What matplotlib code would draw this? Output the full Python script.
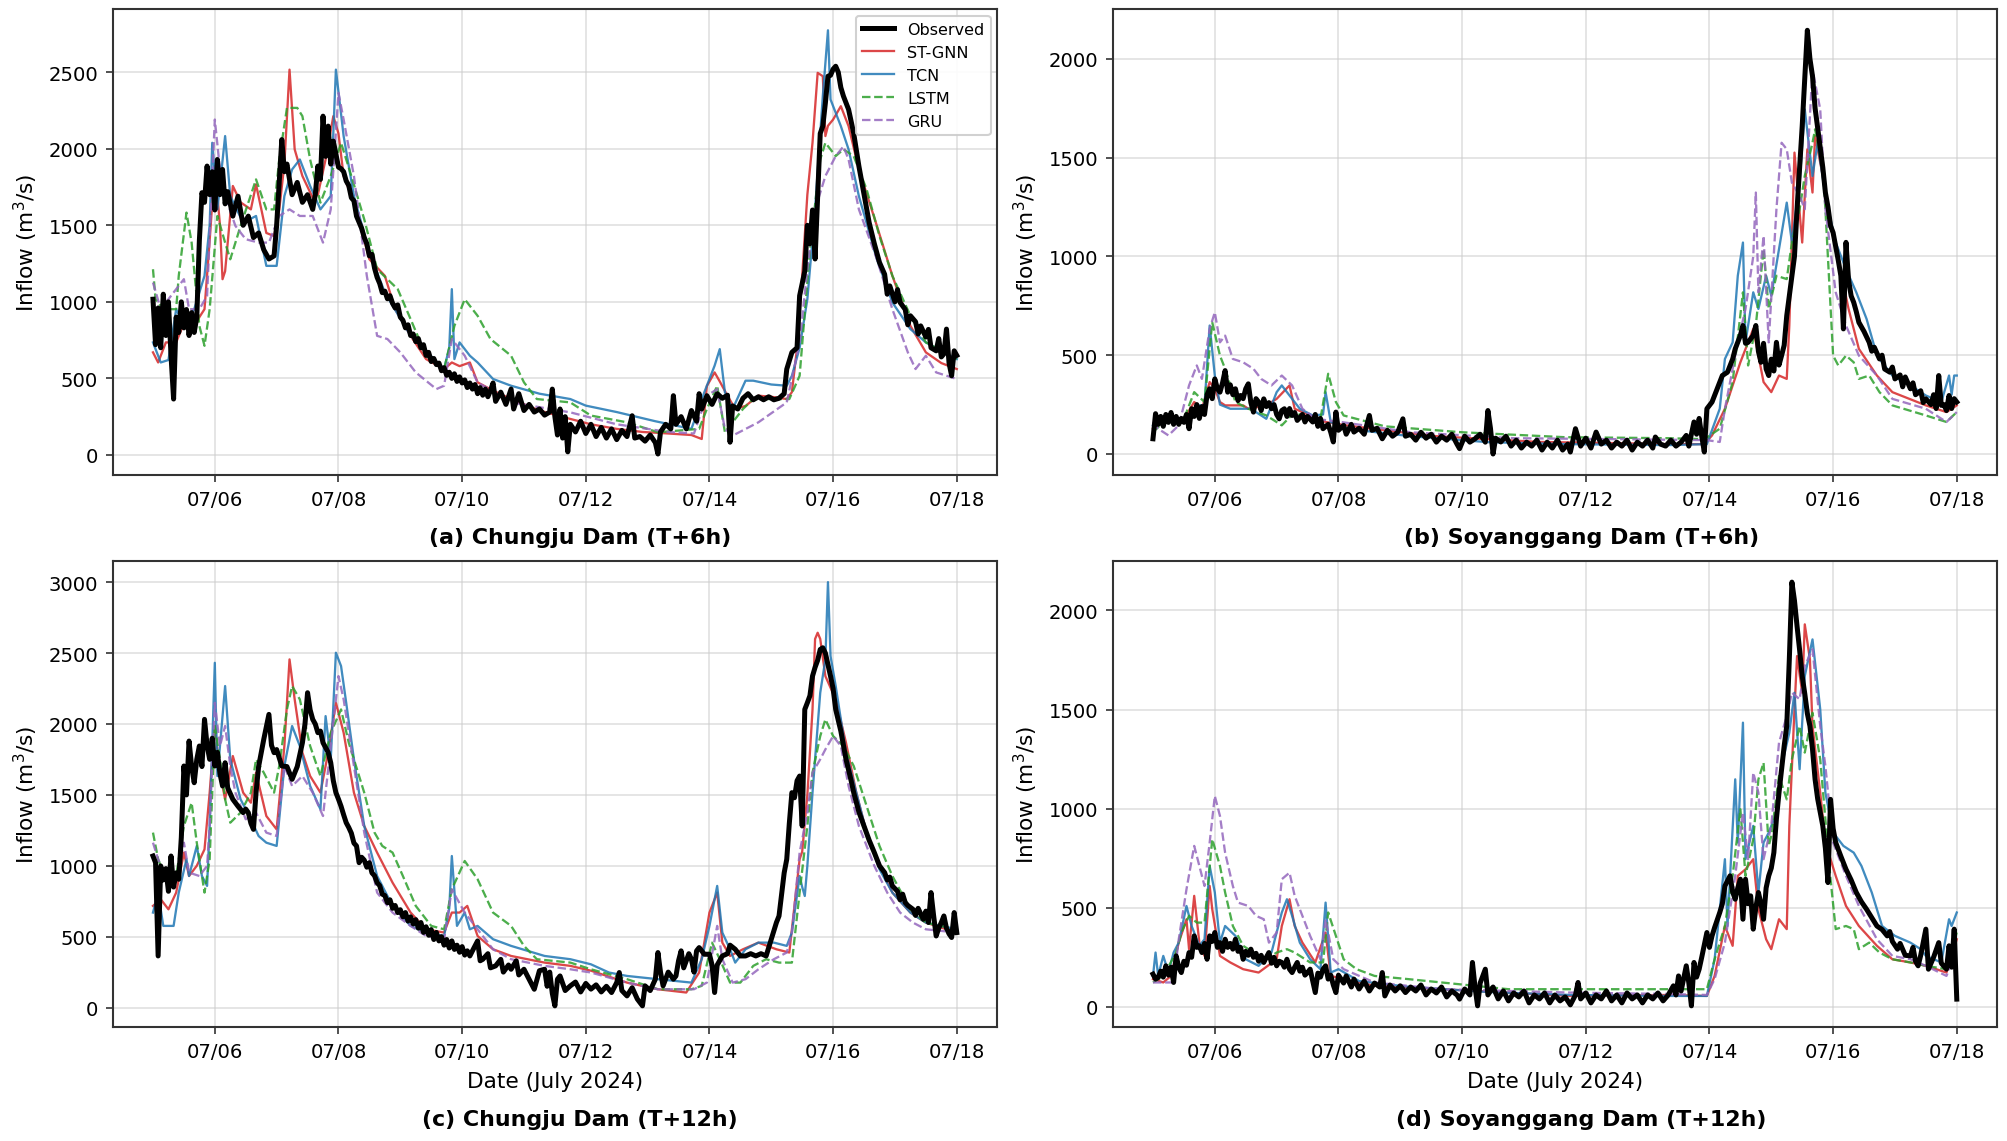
import numpy as np
import matplotlib
matplotlib.use("Agg")
import matplotlib.pyplot as plt
import matplotlib.dates as mdates

# hours since 2024-07-05 00:00 and inflow values (m3/s)

# ---- (a) Chungju Dam, T+6h ----
obs_cj6_h = [0, 1, 2, 3, 4, 5, 6, 7, 8, 9, 10, 11, 12, 13, 14, 15, 16, 17, 18, 19, 20, 21, 22, 23, 24, 25, 26, 27, 28, 29,
             31, 33, 35, 37, 39, 41, 43, 45, 47, 48, 50, 51, 52, 54, 56, 58, 60, 62, 63, 64, 65, 66, 67, 68, 69, 70, 72,
             73, 74, 75, 76, 77, 78, 79, 80, 81, 82, 83, 84, 85, 86, 87, 88, 89, 90, 91, 92, 93, 94, 95, 96, 97, 98, 99,
             100, 101, 102, 103, 104, 105, 106, 107, 108, 109, 110, 111, 112, 113, 114, 115, 116, 117, 118, 119, 120,
             121, 122, 123, 124, 125, 126, 127, 128, 129, 130, 131,
             132, 133, 135, 137, 139, 140, 142, 144, 146, 148, 150, 152, 154, 155, 156, 157, 158, 159, 160, 161, 162,
             164, 166, 168, 170, 172, 174, 176, 178, 180, 182, 184, 186, 187, 189, 191, 193, 195, 196, 197, 199, 201,
             202, 203, 205, 207, 209, 211, 212, 213, 215, 217, 219, 221, 223, 224, 225, 227, 229, 231, 233, 235, 237,
             239, 241, 243, 245, 246, 248, 250, 251, 253, 254, 255, 256, 257, 258, 259, 260, 261, 262, 263, 264, 265,
             266, 267, 268, 270, 272, 274, 276, 278, 280, 282, 284, 285, 286, 288, 289, 290, 292, 293, 294, 296, 297,
             298, 300, 301, 302, 304, 305, 306, 307, 308, 309, 310, 311, 312]
obs_cj6 = [1017, 720, 960, 700, 1050, 780, 1000, 650, 365, 900, 800, 1000, 830, 950, 780, 930, 800, 900, 1400, 1713,
           1650, 1887, 1700, 1850, 1600, 1930, 1700, 1865, 1640, 1720, 1560, 1690, 1500, 1560, 1420, 1450, 1340, 1280,
           1300, 1500, 2060, 1850, 1900, 1700, 1780, 1650, 1700, 1604, 1700, 1887, 1800, 2213, 1950, 2148, 1900, 2050,
           1880,
           1870, 1850, 1790, 1760, 1680, 1660, 1560, 1520, 1480, 1420, 1380, 1300, 1310, 1220, 1160, 1120, 1060, 1070,
           1020, 1040, 990, 960, 980, 900, 880, 830, 850, 780, 790, 740, 760, 700, 720, 650, 670, 610, 630, 590, 600,
           550, 570, 520, 540, 500, 530, 480, 510, 470, 490, 440, 470, 430, 460, 400, 440, 390, 430, 380, 420,
           470, 350, 410, 330, 430, 300, 400, 290, 330, 280, 300, 260, 280, 430, 250, 130, 300,
           110, 250, 20, 200, 150, 220, 140, 200, 120, 180, 110, 170, 100, 160, 120, 256, 110, 120, 90, 130, 80, 6, 150,
           200, 170, 387, 200, 250, 170, 290, 220, 400, 300, 387, 330, 400, 370, 390, 83, 320, 300, 370, 400, 360, 380,
           360, 380, 360, 370, 400, 560, 670, 700, 1040, 1200, 1500, 1380, 1600, 1280, 1690, 2100, 2148, 2300, 2474,
           2480, 2520, 2539, 2500, 2400, 2344, 2257, 2100, 1887, 1700, 1517, 1380, 1257, 1180, 1050, 1104, 1000, 1080,
           996, 950, 850, 909, 870, 790, 843, 770, 820, 700, 680, 760, 640, 660, 822, 600, 517, 680, 650]

st_cj6_h = [0, 2, 5, 9, 12, 16, 18, 20, 22, 24, 26, 27, 28, 31, 34, 38, 40, 44, 47, 49, 51, 53, 55, 58, 62, 64, 67, 70,
            72, 74, 78, 84, 90, 94, 100, 106, 113, 116, 119, 123, 126, 132, 139, 150, 162, 170, 180, 190, 200, 209, 213,
            215, 218, 220, 223, 226, 230, 235, 240, 246, 248, 250, 252, 254, 256, 258, 260, 261, 262, 264, 267, 270,
            274, 281, 287, 294, 300, 306, 312]
st_cj6 = [670, 604, 735, 735, 860, 822, 900, 952, 1400, 1887, 1500, 1148, 1200, 1757, 1650, 1604, 1767, 1450, 1430,
          1600, 1900, 2517, 1996, 1822, 1680, 1700, 1930, 2213, 2100, 1822, 1650, 1278, 1170, 952, 778, 626, 560, 604,
          580, 604, 474, 420, 365, 290, 235, 200, 170, 150, 140, 130, 104, 450, 539, 480, 387, 300, 320, 387, 380, 365,
          410, 700, 1170, 1700, 2039, 2496, 2474, 2083, 2150, 2191, 2278, 2148, 1865, 1496, 1170, 843, 670, 600, 561]

tc_cj6_h = [0, 3, 6, 9, 12, 16, 20, 22, 23, 25, 28, 30, 35, 40, 44, 48, 51, 54, 57, 61, 65, 69, 71, 74, 78, 84, 90, 100,
            113, 115, 116, 117, 119, 123, 126, 132, 139, 150, 162, 168, 180, 195, 209, 214, 218, 220, 222, 225, 230,
            233, 240, 246, 248, 251, 254, 257, 260, 262, 263, 267, 270, 274, 281, 287, 294, 300, 312]
tc_cj6 = [735, 604, 620, 952, 850, 952, 1170, 1500, 2039, 1604, 2083, 1691, 1517, 1561, 1235, 1235, 1691, 1865, 1930,
          1757, 1604, 1691, 2517, 2083, 1691, 1322, 1061, 778, 561, 700, 1083, 626, 735, 648, 604, 496, 452, 400, 365,
          322, 280, 220, 170, 409, 583, 691, 409, 300, 485, 485, 460, 452, 517, 700, 1017, 1604, 2344, 2774, 2322,
          2148, 1996, 1691, 1278, 996, 822, 735, 626]

ls_cj6_h = [0, 1, 4, 9, 10, 13, 15, 18, 20, 22, 25, 28, 30, 34, 40, 44, 47, 49, 52, 56, 58, 61, 65, 69, 73, 77, 82, 87,
            91, 95, 100, 106, 113, 117, 121, 126, 131, 139, 144, 149, 162, 170, 184, 196, 212, 215, 219, 222, 229, 233,
            247, 251, 255, 259, 261, 265, 268, 272, 277, 282, 287, 294, 300, 312]
ls_cj6 = [1213, 1017, 952, 952, 1170, 1583, 1387, 843, 713, 952, 1561, 1387, 1278, 1496, 1800, 1604, 1604, 1930, 2267,
          2267, 2213, 1930, 1648, 1822, 2039, 1822, 1539, 1213, 1148, 1083, 887, 648, 561, 843, 1017, 909, 757, 648,
          474, 365, 343, 257, 213, 148, 170, 300, 452, 148, 300, 365, 365, 517, 1343, 1930, 2039, 1952, 1996, 1952,
          1735, 1430, 1170, 909, 735, 626]

gr_cj6_h = [0, 3, 9, 12, 14, 18, 21, 24, 26, 28, 32, 36, 41, 45, 49, 53, 57, 62, 66, 69, 72, 74, 78, 83, 87, 91, 96,
            102, 110, 113, 116, 121, 126, 139, 162, 180, 200, 210, 215, 219, 222, 225, 235, 246, 251, 254, 257, 261,
            265, 268, 270, 274, 281, 287, 293, 296, 300, 304, 312]
gr_cj6 = [1126, 952, 1083, 1148, 952, 952, 1039, 2191, 1865, 1691, 1496, 1409, 1387, 1387, 1561, 1604, 1561, 1561,
          1387, 1604, 2365, 2191, 1822, 1170, 778, 757, 670, 539, 430, 452, 757, 648, 474, 343, 278, 200, 150, 140,
          387, 430, 170, 126, 213, 343, 735, 1213, 1604, 1822, 1952, 2015, 1930, 1604, 1278, 952, 670, 561, 648, 539,
          496]

# ---- (b) Soyanggang Dam, T+6h ----
obs_sy6_h = [0, 1, 2, 3, 4, 5, 6, 7, 8, 9, 10, 11, 12, 13, 14, 15, 16, 17, 18, 19, 20, 21, 22, 23, 24, 25, 26, 27, 28,
             29, 30, 31, 32, 33, 34, 35, 36, 37, 38, 39, 40, 41, 42, 43, 44, 45, 46, 47, 48, 49, 50, 51, 52, 53, 54,
             55, 56, 58, 59, 60, 62, 63, 64, 65, 66, 68, 69, 70, 71, 72, 74, 75, 77, 78, 80, 82, 84, 85, 87, 89, 91,
             93, 95, 97, 98, 100, 102, 104, 106, 108, 110, 112, 114, 116, 118, 119, 121, 123, 125, 127, 129, 130, 131,
             132, 133, 135, 137, 139, 141, 143, 145, 147, 149, 151, 153, 155, 157, 159, 161, 162, 164, 166, 168, 170,
             172, 174, 176, 178, 180, 182, 184, 186, 188, 190, 192, 194, 195, 197, 199, 201, 203, 205, 207, 208, 210,
             211, 212, 213, 214, 215, 217, 219, 221, 223, 225, 226, 228, 229, 230, 231, 233, 234, 235, 236, 237, 238,
             239, 240, 241, 242, 243, 244, 245, 246, 247, 248, 249, 250, 251, 252, 253, 254, 255, 256, 257, 258, 259,
             260, 261, 262, 263, 264, 265, 266, 267, 268, 269, 270, 271, 272, 273, 274, 276, 278, 279, 280, 282, 283,
             284, 286, 287, 288, 290, 291, 292, 294, 295, 296, 298, 299, 300, 302, 303, 304, 305, 306, 307, 308, 309,
             310, 311, 312]
obs_sy6 = [77, 204, 150, 190, 140, 200, 160, 210, 150, 190, 150, 180, 160, 200, 128, 229, 190, 250, 180, 240, 200, 300,
           330, 280, 380, 330, 313, 360, 422, 313, 350, 300, 330, 270, 296, 280, 330, 355, 260, 212, 280, 263, 220,
           279, 240, 260, 229, 250, 200, 178, 220, 229, 190, 230, 195, 210, 170, 200, 162, 190, 162, 200, 140, 180,
           128, 150, 110, 61, 212, 120, 145, 100, 150, 111, 130, 100, 195, 120, 130, 77, 120, 90, 110, 178, 90, 100,
           70, 110, 80, 100, 60, 90, 70, 100, 50, 27, 90, 60, 77, 100, 60, 220, 130, 0, 80, 61, 90, 40, 70, 30, 60,
           40, 70, 20, 60, 30, 70, 20, 50, 10, 128, 40, 80, 30, 111, 50, 70, 30, 60, 40, 70, 20, 60, 40, 70, 30, 86,
           50, 40, 70, 40, 60, 94, 40, 162, 100, 180, 90, 10, 229, 263, 330, 397, 414, 480, 532, 600, 650, 560, 565,
           600, 650, 520, 464, 560, 430, 397, 480, 420, 565, 450, 498, 550, 700, 800, 902, 1000, 1239, 1450, 1659,
           1900, 2144, 2000, 1912, 1750, 1650, 1550, 1450, 1323, 1250, 1155, 1120, 1050, 980, 902, 633, 1071, 880, 800,
           767, 720, 666, 620, 565, 520, 540, 481, 500, 430, 414, 440, 380, 400, 340, 390, 330, 360, 300, 320, 260,
           279, 250, 300, 230, 397, 246, 250, 220, 296, 230, 280, 263]

st_sy6_h = [0, 3, 12, 16, 19, 22, 24, 26, 28, 35, 37, 44, 48, 53, 55, 61, 67, 75, 90, 110, 130, 150, 180, 200, 214,
            217, 222, 228, 233, 237, 240, 243, 246, 247, 249, 252, 254, 256, 257, 260, 263, 266, 270, 274, 281, 287,
            300, 308, 312]
st_sy6 = [128, 178, 178, 263, 229, 364, 330, 263, 246, 246, 229, 246, 279, 347, 229, 195, 162, 145, 120, 90, 75, 61,
          55, 50, 50, 94, 229, 464, 633, 364, 313, 397, 380, 650, 1525, 1070, 1542, 1323, 1609, 1407, 1155, 986, 734,
          532, 397, 313, 246, 212, 246]

tc_sy6_h = [0, 5, 14, 17, 20, 22, 24, 26, 30, 38, 44, 48, 50, 53, 57, 62, 66, 67, 69, 75, 100, 130, 160, 200, 215, 220,
            222, 225, 227, 229, 230, 233, 235, 238, 240, 243, 246, 248, 251, 253, 256, 258, 261, 265, 269, 273, 277,
            281, 287, 294, 300, 306, 309, 310, 311, 312]
tc_sy6 = [145, 195, 162, 246, 246, 650, 397, 250, 229, 229, 178, 313, 347, 296, 229, 195, 200, 313, 162, 128, 90, 60,
          50, 45, 50, 229, 481, 565, 902, 1070, 565, 818, 734, 902, 801, 1037, 1272, 1070, 1373, 1744, 1407, 1575,
          1306, 1070, 936, 818, 683, 498, 397, 347, 296, 263, 397, 300, 397, 397]

ls_sy6_h = [0, 4, 12, 16, 20, 23, 26, 28, 32, 37, 44, 50, 55, 60, 65, 68, 71, 74, 90, 120, 160, 200, 214, 220, 225,
            229, 231, 234, 237, 239, 242, 246, 248, 251, 253, 256, 257, 260, 261, 264, 266, 269, 272, 274, 278, 282,
            287, 300, 308, 312]
ls_sy6 = [111, 160, 178, 313, 263, 666, 498, 431, 263, 229, 195, 145, 212, 178, 178, 406, 263, 195, 140, 110, 85, 80,
          75, 128, 364, 818, 448, 650, 1037, 734, 902, 885, 1070, 1239, 1407, 1575, 1643, 1441, 1239, 498, 448, 498,
          464, 380, 397, 313, 246, 195, 162, 212]

gr_sy6_h = [0, 2, 6, 10, 14, 17, 19, 22, 24, 26, 28, 31, 35, 39, 42, 46, 50, 54, 58, 63, 73, 100, 140, 180, 215, 220,
            222, 227, 230, 233, 234, 235, 237, 239, 242, 244, 246, 248, 251, 253, 256, 259, 261, 265, 269, 274, 281,
            287, 300, 308, 312]
gr_sy6 = [162, 128, 94, 145, 347, 448, 380, 633, 717, 565, 599, 481, 464, 431, 380, 347, 397, 347, 229, 178, 162, 110,
          80, 75, 70, 61, 229, 565, 734, 1000, 1323, 818, 1104, 565, 1239, 1575, 1542, 1373, 1306, 1239, 1946, 1744,
          1239, 818, 650, 498, 397, 279, 229, 162, 212]

# ---- (c) Chungju Dam, T+12h ----
obs_cj12_h = [0, 1, 2, 3, 4, 5, 6, 7, 8, 9, 10, 11, 12, 13, 14, 15, 16, 17, 18, 19, 20, 21, 22, 23, 24, 25, 26, 27, 28,
              29, 31, 33, 35, 36, 37, 38, 39, 40, 41, 43, 45, 46, 47, 48, 50, 52, 54, 56, 58, 59, 60, 61, 62, 63, 64,
              65, 66, 68, 69,
              70, 71, 72, 73, 74, 75, 76, 77, 78, 79, 80, 81, 82, 83, 84, 85, 86, 87, 88, 89, 90, 91, 92, 93, 94, 95,
              96, 97, 98, 99, 100, 101, 102, 103, 104, 105, 106, 107, 108, 109, 110, 111, 112, 113, 114, 115, 116,
              117, 118, 119, 120, 121, 122, 123, 124,
              126, 127, 128, 130, 131, 133, 135, 136, 138, 139, 141, 142, 144, 146, 148, 150,
              152, 153, 154, 155, 156, 157, 158, 160, 162, 164, 166, 168, 170, 172, 174, 176, 178, 180, 181, 182, 184,
              186, 188, 190, 191, 193, 195, 196, 197, 198, 200, 202, 203, 204, 205, 206, 208, 209, 210, 211, 212, 214,
              216, 217, 218, 219, 221, 223, 224, 226, 228, 230, 232, 234, 236, 238, 240, 242, 243, 244, 245, 246, 247,
              248, 249, 250, 251, 252, 253, 254, 255, 256, 257, 258, 259, 260, 261, 262, 263, 264, 265, 267, 269, 271,
              272, 274, 276, 278, 280, 282, 284, 285, 286, 287, 289, 290, 291, 292, 293, 295, 296, 297, 299, 300, 301,
              302, 303, 304, 305, 306, 307, 308, 309, 310, 311, 312]
obs_cj12 = [1069, 1022, 364, 999, 900, 980, 820, 1069, 850, 950, 905, 1200, 1704, 1500, 1880, 1700, 1586, 1750, 1845,
            1700, 2033, 1850, 1751, 1900, 1704, 1800, 1650, 1563, 1727, 1550, 1469, 1420, 1375, 1400, 1375, 1300,
            1257, 1516, 1700, 1892, 2068, 1850, 1798, 1820, 1704, 1700, 1610, 1700, 1868, 2000, 2221, 2100, 2033,
            2000, 1939, 1950, 1868, 1800, 1727,
            1600, 1516, 1470, 1420, 1360, 1304, 1270, 1230, 1160, 1140, 1022, 1060, 1040, 990, 1022, 950, 930, 881,
            860, 800, 790, 740, 760, 700, 720, 670, 690, 640, 670, 610, 640, 590, 620, 560, 600, 530, 570, 510, 550,
            480, 530, 470, 500, 440, 480, 420, 470, 410, 440, 390, 430, 370, 400, 364, 400,
            470, 330, 340, 380, 280, 294, 340, 250, 300, 270, 330, 230, 270, 200, 129, 260,
            270, 150, 250, 100, 12, 200, 223, 120, 153, 180, 110, 170, 130,
            160, 110, 150, 106, 176, 247, 120, 82, 140, 60, 12, 153, 120, 200, 388, 250, 153, 250, 200, 223, 330, 400,
            280, 380, 341, 250, 400, 423, 376, 376, 300, 106, 300, 364, 380, 440, 411, 364, 364, 380, 364, 380, 364,
            482, 600, 646, 800, 950, 1046, 1300, 1516, 1480, 1600, 1633, 1281, 2103, 2150, 2200, 2338, 2400, 2450,
            2526, 2538, 2500, 2420, 2338, 2250, 2103, 1950, 1751, 1600, 1516, 1380, 1281, 1180, 1093, 1000, 952, 900,
            920, 858, 820, 760, 800, 740, 720, 693, 650, 700, 623, 680, 600, 811, 650, 505, 560, 600, 646, 560, 520,
            494, 670, 529]

st_cj12_h = [0, 3, 6, 9, 12, 14, 17, 20, 22, 24, 26, 28, 31, 35, 38, 40, 44, 48, 51, 53, 55, 58, 61, 65, 68, 71, 74,
             78, 82, 87, 93, 100, 106, 113, 116, 119, 122, 126, 132, 139, 152, 162, 170, 184, 196, 207, 212, 216, 219,
             221, 224, 229, 235, 242, 247, 251, 252, 254, 256, 257, 258, 259, 261, 265, 269, 273, 277, 282, 287, 294,
             300, 312]
st_cj12 = [717, 764, 693, 811, 1093, 928, 1000, 1116, 1516, 1986, 1657, 1469, 1774, 1516, 1445, 1657, 1351, 1257,
           1845, 2456, 2174, 1798, 1633, 1516, 1798, 2150, 1939, 1516, 1281, 1093, 881, 670, 552, 529, 670, 670, 717,
           505, 411, 364, 317, 294, 260, 176, 129, 106, 247, 670, 811, 458, 364, 411, 458, 411, 388, 1046, 1100, 1500,
           2100, 2600, 2644, 2600, 2338, 2174, 1868, 1516, 1234, 999, 811, 670, 599, 529]

tc_cj12_h = [0, 2, 4, 8, 10, 13, 14, 17, 19, 21, 22, 24, 25, 28, 30, 34, 38, 41, 44, 48, 51, 54, 57, 61, 65, 67, 69,
             71, 73, 75, 78, 82, 87, 93, 100, 106, 113, 115, 116, 118, 121, 123, 126, 132, 139, 152, 162, 170, 177,
             184, 196, 209, 213, 216, 219, 221, 224, 226, 230, 235, 241, 246, 248, 251, 252, 253, 254, 256, 259, 261,
             262, 263, 265, 269, 273, 277, 282, 287, 294, 300, 312]
tc_cj12 = [670, 811, 576, 576, 811, 1046, 928, 1140, 928, 858, 1281, 2432, 1633, 2268, 1751, 1469, 1328, 1210, 1163,
           1140, 1704, 1986, 1845, 1563, 1398, 2056, 1751, 2503, 2409, 2150, 1751, 1281, 928, 717, 576, 529, 505, 700,
           1069, 576, 670, 552, 576, 482, 435, 364, 341, 305, 247, 223, 200, 176, 341, 576, 858, 529, 411, 317, 411,
           458, 458, 435, 529, 928, 850, 787, 1000, 1516, 2221, 2456, 3001, 2479, 2268, 1798, 1516, 1234, 975, 811,
           670, 599, 552]

ls_cj12_h = [0, 2, 6, 9, 12, 15, 17, 20, 22, 24, 26, 28, 30, 34, 38, 40, 43, 47, 49, 52, 54, 57, 61, 65, 69, 73, 76,
             82, 86, 89, 93, 97, 102, 108, 113, 116, 121, 126, 132, 139, 144, 149, 162, 170, 184, 196, 209, 213, 217,
             220, 224, 228, 233, 238, 243, 248, 251, 254, 256, 259, 261, 264, 268, 272, 277, 282, 287, 294, 300, 312]
ls_cj12 = [1234, 1046, 858, 928, 1281, 1445, 1163, 811, 1046, 1986, 1751, 1469, 1304, 1375, 1516, 1751, 1657, 1516,
           1704, 2103, 2268, 2174, 1845, 1633, 1939, 2103, 1868, 1516, 1234, 1140, 1093, 928, 717, 576, 552, 834,
           1034, 905, 670, 576, 435, 341, 317, 270, 200, 129, 129, 153, 458, 341, 176, 176, 294, 341, 317, 317, 811,
           1281, 1657, 1915, 2033, 1915, 1845, 1704, 1422, 1140, 928, 693, 599, 552]

gr_cj12_h = [0, 2, 6, 9, 12, 14, 18, 21, 22, 24, 26, 28, 30, 32, 36, 40, 44, 48, 51, 54, 58, 62, 66, 69, 72, 74, 78,
             82, 87, 93, 100, 106, 113, 116, 121, 126, 132, 139, 152, 162, 170, 184, 196, 210, 215, 219, 221, 225,
             230, 235, 241, 246, 248, 251, 254, 256, 259, 261, 264, 267, 270, 274, 280, 285, 290, 295, 300, 312]
gr_cj12 = [1163, 1046, 881, 905, 1163, 952, 928, 999, 1281, 2150, 1845, 1986, 1704, 1516, 1328, 1375, 1234, 1210,
           1704, 1563, 1633, 1516, 1351, 1845, 2338, 2174, 1704, 1234, 811, 670, 576, 505, 482, 834, 670, 552, 411,
           341, 294, 270, 247, 176, 129, 129, 176, 576, 341, 176, 200, 270, 341, 388, 529, 1093, 1375, 1657, 1751,
           1821, 1915, 1845, 1563, 1281, 999, 811, 670, 599, 552, 529]

# ---- (d) Soyanggang Dam, T+12h ----
obs_sy12_h = [0, 1, 2, 3, 4, 5, 6, 7, 8, 9, 10, 11, 12, 13, 14, 15, 16, 17, 18, 19, 20, 21, 22, 23, 24, 25, 26, 27, 28,
              29, 30, 31, 32, 33, 34, 35, 36, 37, 38, 39, 40, 41, 42, 43, 44, 45, 46, 47, 48, 49, 50, 51, 52, 53, 54,
              55, 56, 57, 58, 59, 60, 61, 62, 63, 64, 65, 66, 67, 68, 69, 70, 71, 72, 74, 75, 77, 78, 80, 82, 84, 86,
              88, 89, 90, 92, 94, 96, 98, 100, 102, 104, 106, 108, 110, 112, 114, 116, 118, 119, 121, 123, 124, 125,
              126, 127, 129, 130, 132, 134, 136, 138, 140, 142, 144, 146, 148, 150, 152, 154, 156, 158, 160, 162, 164,
              165, 166, 168, 170, 172, 174, 176, 178, 180, 182, 184, 186, 188, 190, 192, 194, 196, 198, 200, 202, 203,
              204, 205, 207, 208, 209, 210, 211, 212, 213, 215, 216, 217, 218, 220, 221, 222, 224, 225, 226, 227, 228,
              229, 230, 231, 232, 233, 234, 235, 236, 237, 238, 239, 240, 241, 242, 243, 244, 245, 246, 247, 248, 249,
              250, 251, 252, 253, 254, 255, 256, 257, 258, 259, 260, 261, 262, 263, 264, 265, 267, 269, 271, 273, 275,
              277, 279, 281, 283, 285, 286, 287, 289, 290, 292, 294, 295, 296, 297, 298, 300, 301, 303, 305, 306, 308,
              309, 310, 311, 312]
obs_sy12 = [165, 140, 148, 180, 150, 207, 160, 200, 123, 257, 200, 173, 230, 210, 274, 250, 358, 300, 308, 274, 320, 240,
            358, 330, 375, 300, 324, 280, 341, 300, 320, 291, 341, 280, 300, 240, 280, 260, 291, 250, 270, 230, 260,
            224, 250, 274, 220, 250, 207, 230, 224, 200, 240, 190, 173, 200, 224, 180, 200, 160, 173, 190, 130, 72,
            170, 150, 190, 207, 140, 160, 110, 72, 160, 120, 156, 100, 140, 90, 130, 80, 120, 100, 173, 55, 110, 80,
            106, 72, 100, 80, 110, 60, 90, 70, 100, 50, 80, 60, 39, 90, 60, 224, 100, 5, 120, 190, 60, 100, 40, 80,
            30, 70, 50, 80, 20, 60, 40, 70, 20, 60, 30, 50, 10, 60, 123, 40, 70, 20, 60, 40, 80, 30, 60, 20, 70, 40,
            60, 20, 60, 40, 70, 30, 60, 106, 60, 156, 80, 207, 120, 5, 224, 150, 190, 250, 375, 300, 358, 400, 476,
            520, 610, 661, 580, 543, 600, 644, 442, 644, 520, 560, 392, 500, 577, 520, 442, 600, 661, 700, 778, 950,
            1081, 1200, 1316, 1417, 1753, 2143, 2050, 1921, 1800, 1669, 1580, 1480, 1417, 1300, 1148, 1050, 980, 913,
            800, 627, 1047, 900, 829, 760, 694, 640, 577, 530, 492, 450, 408, 390, 358, 380, 330, 291, 320, 260, 257,
            300, 230, 207, 260, 392, 190, 250, 324, 220, 190, 308, 200, 392, 39]

st_sy12_h = [0, 4, 7, 10, 13, 14, 16, 18, 20, 22, 23, 26, 30, 35, 41, 48, 50, 53, 55, 58, 63, 67, 69, 74, 86, 112,
             162, 200, 215, 218, 222, 225, 227, 230, 233, 235, 238, 240, 243, 246, 247, 249, 250, 252, 253, 255, 256,
             259, 261, 265, 269, 274, 281, 287, 294, 300, 308, 312]
st_sy12 = [140, 123, 156, 324, 442, 291, 560, 324, 257, 610, 493, 257, 224, 190, 173, 240, 408, 543, 408, 324, 224, 375,
           156, 140, 106, 89, 55, 60, 55, 156, 408, 308, 661, 694, 745, 493, 341, 291, 442, 392, 913, 1501, 1770, 1585,
           1930, 1753, 1417, 1081, 829, 661, 509, 408, 308, 240, 224, 207, 173, 341]

tc_sy12_h = [0, 1, 2, 4, 6, 8, 10, 13, 15, 18, 20, 22, 24, 26, 28, 32, 36, 41, 46, 50, 52, 54, 57, 61, 65, 67, 69, 72,
             80, 100, 130, 162, 200, 215, 218, 222, 223, 226, 227, 229, 230, 233, 235, 237, 239, 242, 244, 247, 249,
             251, 253, 256, 259, 261, 264, 268, 272, 275, 279, 283, 288, 294, 298, 300, 306, 309, 310, 312]
tc_sy12 = [156, 274, 156, 257, 173, 274, 324, 509, 408, 308, 341, 711, 577, 324, 408, 358, 240, 207, 274, 476, 543, 459,
           324, 240, 190, 526, 173, 190, 130, 100, 75, 60, 55, 55, 240, 745, 408, 1148, 829, 1434, 745, 913, 577, 829,
           879, 980, 1215, 1383, 1585, 1199, 1669, 1854, 1501, 1081, 879, 812, 778, 711, 577, 408, 358, 324, 291, 257,
           224, 442, 408, 476]

ls_sy12_h = [0, 4, 9, 11, 14, 17, 20, 23, 26, 28, 31, 35, 39, 44, 48, 52, 55, 61, 66, 68, 71, 74, 79, 86, 99, 112, 125,
             138, 162, 200, 215, 218, 222, 225, 228, 230, 233, 235, 237, 239, 240, 243, 246, 248, 251, 253, 256, 259,
             261, 263, 265, 269, 272, 274, 278, 282, 287, 294, 300, 308, 312]
ls_sy12 = [123, 156, 274, 375, 459, 425, 425, 846, 711, 577, 408, 308, 274, 240, 274, 291, 274, 224, 224, 476, 358, 240,
           190, 156, 140, 123, 106, 89, 89, 89, 89, 240, 408, 661, 997, 661, 846, 1148, 1232, 812, 862, 1165, 1047,
           1249, 1417, 1283, 1484, 1249, 946, 644, 392, 408, 392, 291, 324, 274, 240, 224, 207, 190, 375]

gr_sy12_h = [0, 8, 10, 13, 16, 18, 20, 22, 24, 26, 28, 31, 33, 37, 40, 43, 45, 48, 50, 53, 55, 58, 61, 65, 67, 70, 74,
             86, 112, 162, 200, 215, 218, 222, 226, 229, 231, 233, 235, 237, 240, 243, 246, 248, 251, 253, 256, 259,
             261, 264, 269, 274, 281, 287, 294, 300, 308, 312]
gr_sy12 = [123, 123, 341, 593, 812, 711, 610, 829, 1064, 963, 778, 610, 526, 509, 459, 442, 324, 375, 644, 677, 560, 459,
           358, 240, 442, 240, 190, 123, 89, 72, 65, 60, 140, 324, 661, 980, 745, 1182, 1081, 745, 913, 1333, 1467,
           1585, 1552, 1720, 1804, 1417, 1215, 829, 661, 509, 341, 257, 240, 207, 156, 291]

MODELS = ["ST-GNN", "TCN", "LSTM", "GRU"]
COLORS = ["#d62728", "#1f77b4", "#2ca02c", "#9467bd"]
STYLES = ["-", "-", "--", "--"]

PANELS = [
    ("(a) Chungju Dam (T+6h)", (obs_cj6_h, obs_cj6),
     [(st_cj6_h, st_cj6), (tc_cj6_h, tc_cj6), (ls_cj6_h, ls_cj6), (gr_cj6_h, gr_cj6)]),
    ("(b) Soyanggang Dam (T+6h)", (obs_sy6_h, obs_sy6),
     [(st_sy6_h, st_sy6), (tc_sy6_h, tc_sy6), (ls_sy6_h, ls_sy6), (gr_sy6_h, gr_sy6)]),
    ("(c) Chungju Dam (T+12h)", (obs_cj12_h, obs_cj12),
     [(st_cj12_h, st_cj12), (tc_cj12_h, tc_cj12), (ls_cj12_h, ls_cj12), (gr_cj12_h, gr_cj12)]),
    ("(d) Soyanggang Dam (T+12h)", (obs_sy12_h, obs_sy12),
     [(st_sy12_h, st_sy12), (tc_sy12_h, tc_sy12), (ls_sy12_h, ls_sy12), (gr_sy12_h, gr_sy12)]),
]

START = np.datetime64("2024-07-05T00")


def to_time(hours):
    return START + np.array(hours, dtype="timedelta64[h]")


fig, axes = plt.subplots(2, 2, figsize=(13.38, 7.613), dpi=150)
fig.subplots_adjust(left=0.0562, right=0.995, top=0.9912, bottom=0.0998, wspace=0.131, hspace=0.184)

title_x = [0.289, 0.788, 0.289, 0.788]
title_y = [0.5293, 0.5293, 0.0193, 0.0193]

for i, (ax, (title, obs, preds)) in enumerate(zip(axes.flat, PANELS)):
    for (h, v), name, col, ls in zip(preds, MODELS, COLORS, STYLES):
        ax.plot(to_time(h), v, color=col, ls=ls, lw=1.1, alpha=0.85, label=name, zorder=3)
    ax.plot(to_time(obs[0]), obs[1], color="black", lw=2.4, label="Observed", zorder=5)

    ax.xaxis.set_major_locator(mdates.DayLocator(bymonthday=range(6, 19, 2)))
    ax.xaxis.set_major_formatter(mdates.DateFormatter("%m/%d"))
    ax.grid(True, color="#cccccc", lw=0.8, alpha=0.6)
    ax.tick_params(labelsize=9.4, color="#333333")
    for sp in ax.spines.values():
        sp.set_color("#333333")
        sp.set_linewidth(1.0)
    ax.set_ylabel("Inflow (m$^3$/s)", fontsize=10.4)
    if i >= 2:
        ax.set_xlabel("Date (July 2024)", fontsize=10.4, labelpad=5)
    fig.text(title_x[i], title_y[i], title, ha="center", va="center", fontsize=10.6, weight="bold")

    if i == 0:
        hs, ls_ = ax.get_legend_handles_labels()
        order = [4, 0, 1, 2, 3]
        ax.legend([hs[k] for k in order], [ls_[k] for k in order], loc="upper right",
                  fontsize=7.7, framealpha=0.9, borderaxespad=0.4)

fig.savefig("out.png", dpi=150, facecolor="white")
